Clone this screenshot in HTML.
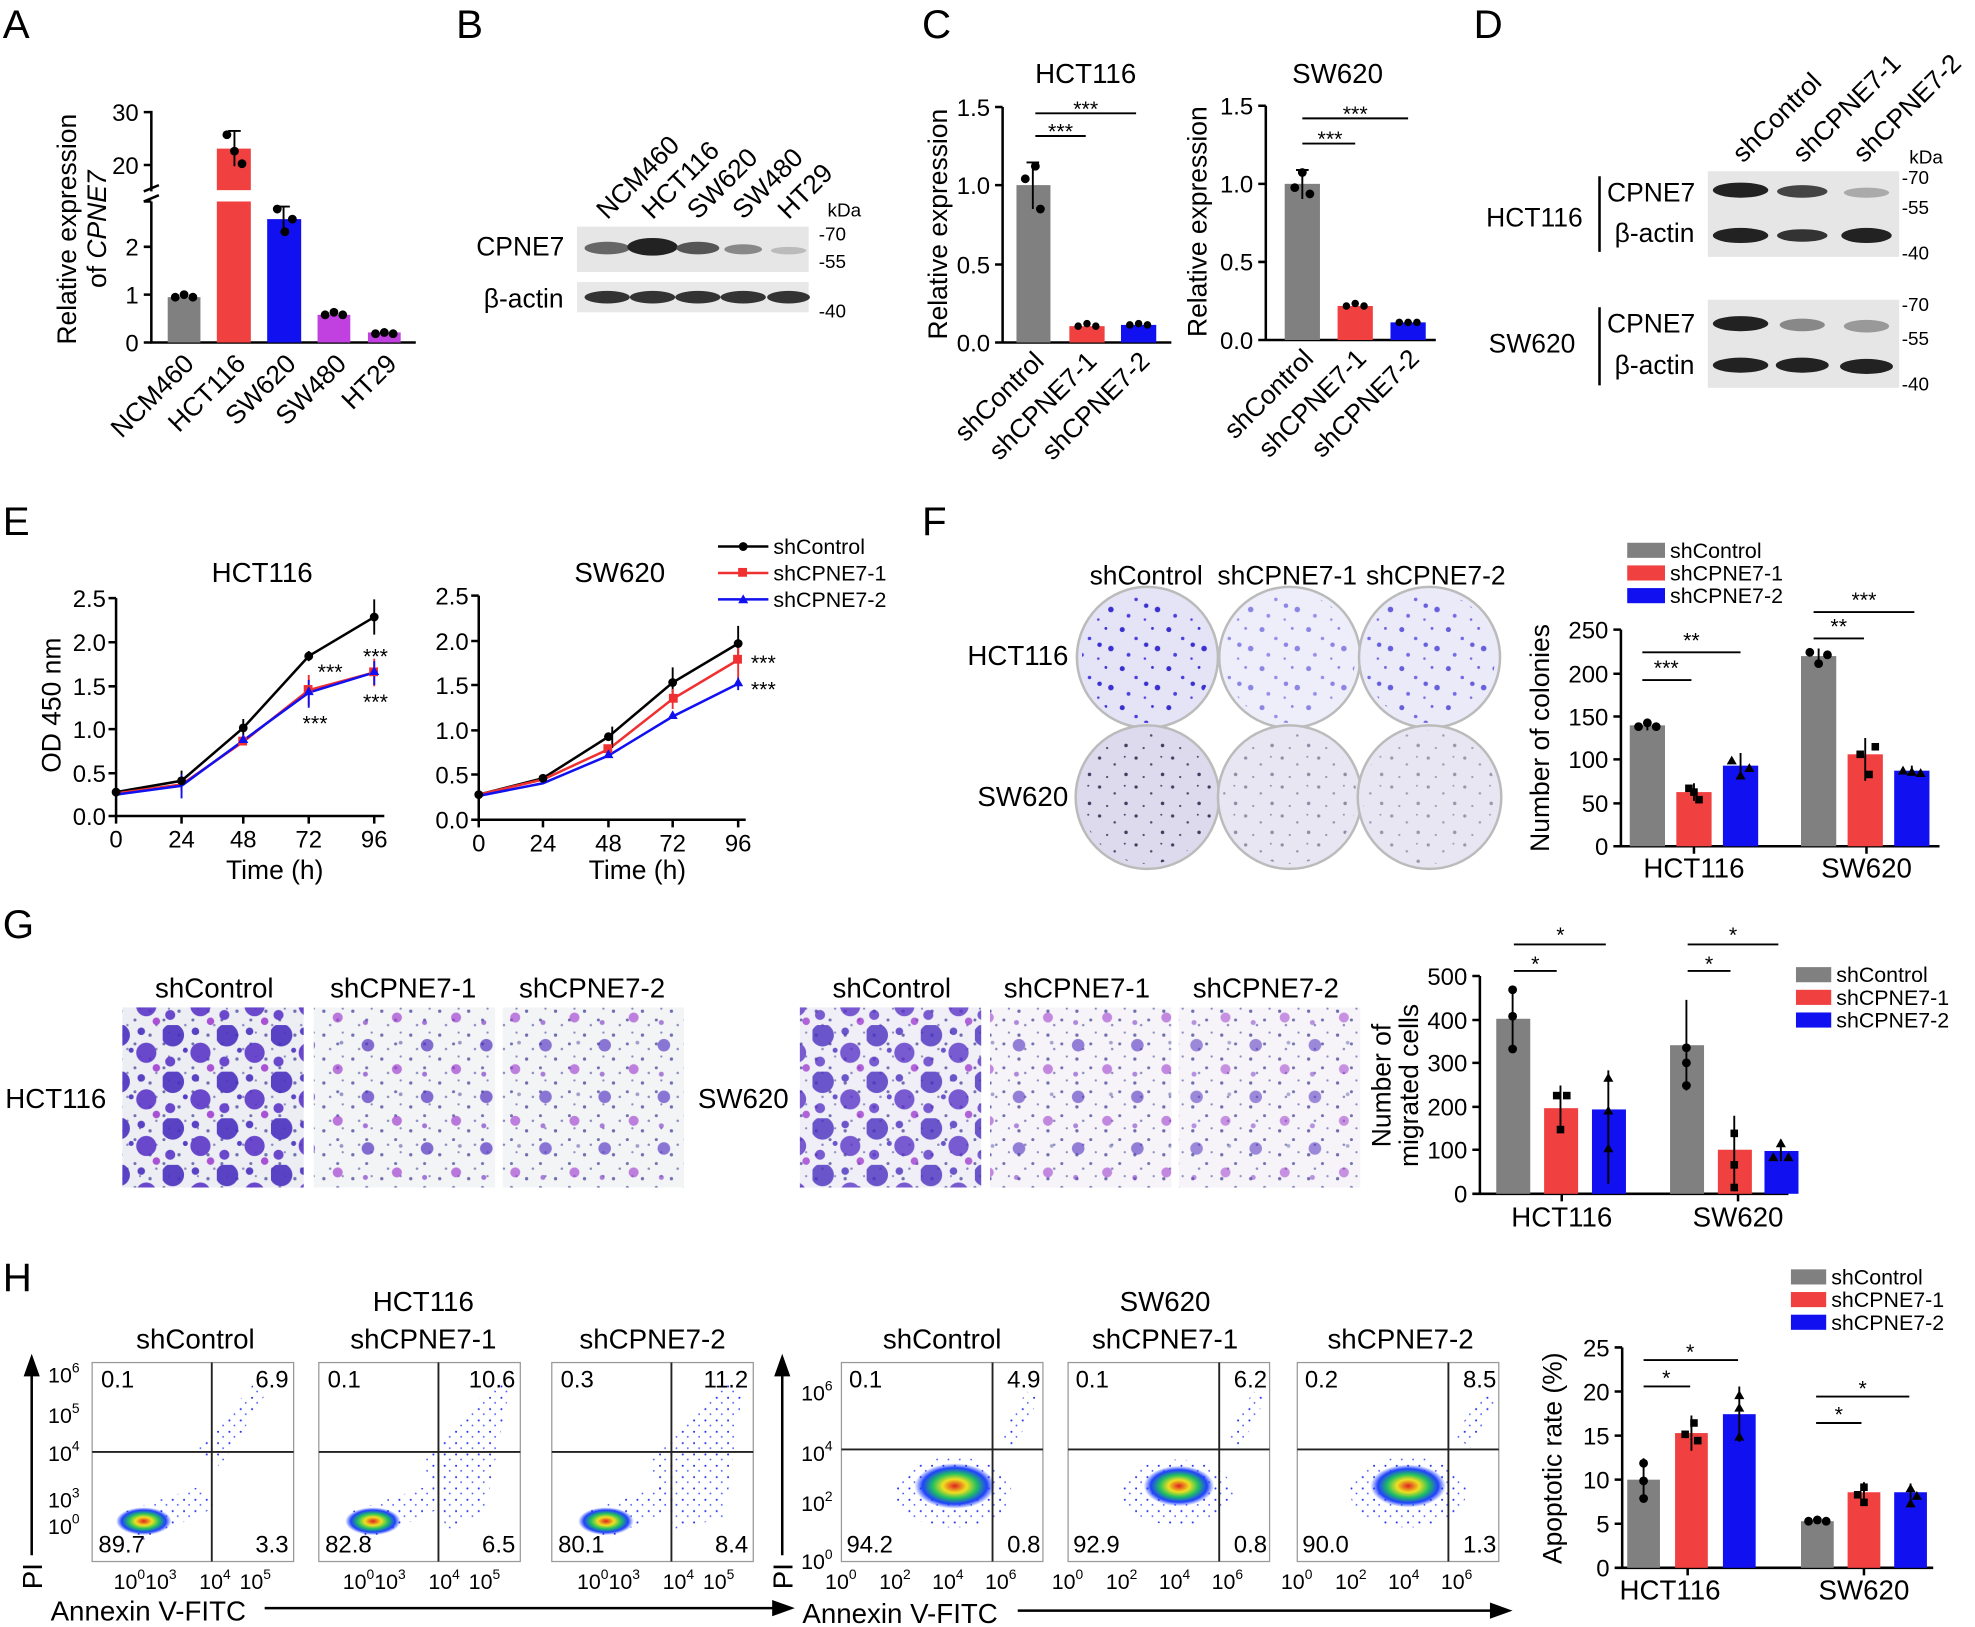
<!DOCTYPE html>
<html><head><meta charset="utf-8"><style>
html,body{margin:0;padding:0;background:#fff}
svg{display:block}
text{font-family:"Liberation Sans",Arial,sans-serif;fill:#000}
</style></head><body>
<svg width="1975" height="1627" viewBox="0 0 1568 1292" xmlns="http://www.w3.org/2000/svg">
<defs>
<pattern id="dots" width="37" height="31" patternUnits="userSpaceOnUse">
<circle cx="3" cy="4" r="2" fill="#3a2fd0"/><circle cx="14" cy="11" r="1.4" fill="#4b3fe0"/><circle cx="27" cy="3" r="1.1" fill="#3a2fd0"/><circle cx="31" cy="19" r="2.2" fill="#3a2fd0"/><circle cx="8" cy="24" r="1.5" fill="#4b3fe0"/><circle cx="21" cy="27" r="1" fill="#4b3fe0"/><circle cx="22" cy="16" r="1.8" fill="#3a2fd0"/>
</pattern>
<pattern id="dotsS" width="29" height="23" patternUnits="userSpaceOnUse">
<circle cx="3" cy="4" r="1.3" fill="#222244"/><circle cx="15" cy="9" r="1" fill="#333355"/><circle cx="24" cy="17" r="1.4" fill="#222244"/><circle cx="9" cy="19" r="0.9" fill="#333355"/><circle cx="23" cy="3" r="0.8" fill="#333355"/>
</pattern>
<pattern id="tw" width="23" height="19" patternUnits="userSpaceOnUse">
<circle cx="4" cy="5" r="1.3" fill="#6f6fb0"/><circle cx="15" cy="12" r="1.2" fill="#6f6fb0"/><circle cx="9" cy="16" r="1" fill="#8a8ac0"/><circle cx="19" cy="3" r="0.9" fill="#8a8ac0"/>
</pattern>
<pattern id="twD" width="43" height="37" patternUnits="userSpaceOnUse">
<circle cx="8" cy="8" r="9" fill="#4a2fc0"/><circle cx="30" cy="22" r="8" fill="#5a35c8"/><circle cx="6" cy="29" r="4" fill="#5a35c8"/><circle cx="26" cy="5" r="3" fill="#4a2fc0"/><circle cx="38" cy="34" r="3" fill="#a040d0"/><circle cx="18" cy="20" r="2" fill="#4a2fc0"/>
</pattern>
<pattern id="twM" width="47" height="41" patternUnits="userSpaceOnUse">
<circle cx="10" cy="10" r="5" fill="#5030c0"/><circle cx="33" cy="29" r="4" fill="#a040d0"/><circle cx="36" cy="8" r="1.5" fill="#6f6fb0"/><circle cx="8" cy="33" r="2" fill="#8040c8"/>
</pattern>
<radialGradient id="blob"><stop offset="0" stop-color="#e02020"/><stop offset="0.3" stop-color="#f0e020"/><stop offset="0.55" stop-color="#20c060"/><stop offset="0.8" stop-color="#2040ff"/><stop offset="1" stop-color="#2040ff" stop-opacity="0"/></radialGradient>
<pattern id="sc" width="9" height="9" patternUnits="userSpaceOnUse"><circle cx="2" cy="3" r="0.8" fill="#2233ee"/><circle cx="6" cy="7" r="0.7" fill="#4455ff"/></pattern>
</defs>

<g font-size="32">
<text x="2" y="30">A</text><text x="362" y="30">B</text><text x="732" y="30">C</text><text x="1170" y="30">D</text>
<text x="2" y="425">E</text><text x="732" y="425">F</text><text x="2" y="745">G</text><text x="2" y="1025">H</text>
</g>

<!-- A -->
<g stroke="#000" stroke-width="2" fill="none">
<path d="M120 88 V152 M120 160 V272 H330"/>
<path d="M114 152 l12 -5 M114 160 l12 -5"/>
<path d="M114 89 H120 M114 131 H120 M114 160 H120 M114 196 H120 M114 234 H120 M114 272 H120"/>
</g>
<g font-size="19" text-anchor="end"><text x="110" y="96">30</text><text x="110" y="138">20</text><text x="110" y="203">2</text><text x="110" y="241">1</text><text x="110" y="279">0</text></g>
<text transform="translate(60,182) rotate(-90)" font-size="21" text-anchor="middle">Relative expression</text>
<text transform="translate(84,182) rotate(-90)" font-size="21" text-anchor="middle">of <tspan font-style="italic">CPNE7</tspan></text>
<rect x="133" y="236" width="26" height="36" fill="#808080"/>
<rect x="172" y="118" width="27" height="154" fill="#f04040"/><rect x="170" y="151" width="31" height="9" fill="#fff"/>
<rect x="212" y="174" width="27" height="98" fill="#1010f0"/>
<rect x="252" y="250" width="26" height="22" fill="#c040e0"/>
<rect x="292" y="264" width="26" height="8" fill="#c040e0"/>
<g stroke="#000" stroke-width="1.5"><path d="M186 104V132 M181 104h10 M225 164V186 M220 164h10"/></g>
<g fill="#000"><circle cx="139" cy="236" r="3.5"/><circle cx="146" cy="234" r="3.5"/><circle cx="153" cy="236" r="3.5"/>
<circle cx="180" cy="107" r="3.5"/><circle cx="186" cy="120" r="3.5"/><circle cx="192" cy="130" r="3.5"/>
<circle cx="220" cy="166" r="3.5"/><circle cx="226" cy="184" r="3.5"/><circle cx="232" cy="174" r="3.5"/>
<circle cx="258" cy="250" r="3.5"/><circle cx="265" cy="248" r="3.5"/><circle cx="272" cy="250" r="3.5"/>
<circle cx="298" cy="265" r="3.5"/><circle cx="305" cy="264" r="3.5"/><circle cx="312" cy="265" r="3.5"/></g>
<g font-size="21" text-anchor="end">
<text transform="translate(155,290) rotate(-45)">NCM460</text><text transform="translate(196,290) rotate(-45)">HCT116</text>
<text transform="translate(236,290) rotate(-45)">SW620</text><text transform="translate(276,290) rotate(-45)">SW480</text><text transform="translate(316,290) rotate(-45)">HT29</text></g>

<!-- B -->
<g font-size="21">
<text transform="translate(482,175) rotate(-45)">NCM460</text><text transform="translate(518,175) rotate(-45)">HCT116</text>
<text transform="translate(554,175) rotate(-45)">SW620</text><text transform="translate(590,175) rotate(-45)">SW480</text><text transform="translate(626,175) rotate(-45)">HT29</text>
<text x="378" y="203">CPNE7</text><text x="384" y="244">β-actin</text></g>
<text x="657" y="172" font-size="15">kDa</text>
<g font-size="15"><text x="650" y="191">-70</text><text x="650" y="213">-55</text><text x="650" y="252">-40</text></g>
<rect x="458" y="180" width="184" height="36" fill="#e6e6e6"/><rect x="458" y="224" width="184" height="24" fill="#e8e8e8"/>
<g fill="#222"><ellipse cx="482" cy="197" rx="18" ry="5" fill="#666"/><ellipse cx="518" cy="196" rx="20" ry="7" fill="#222"/><ellipse cx="554" cy="197" rx="17" ry="5" fill="#555"/><ellipse cx="590" cy="198" rx="15" ry="4" fill="#888"/><ellipse cx="626" cy="199" rx="14" ry="3" fill="#bbb"/>
<ellipse cx="482" cy="236" rx="18" ry="5" fill="#333"/><ellipse cx="518" cy="236" rx="18" ry="5" fill="#333"/><ellipse cx="554" cy="236" rx="18" ry="5" fill="#333"/><ellipse cx="590" cy="236" rx="18" ry="5" fill="#333"/><ellipse cx="626" cy="236" rx="17" ry="5" fill="#333"/></g>

<!-- C -->
<text x="862" y="66" font-size="22" text-anchor="middle">HCT116</text>
<text x="1062" y="66" font-size="22" text-anchor="middle">SW620</text>
<g stroke="#000" stroke-width="2" fill="none">
<path d="M796 85V272H930 M790 85h6 M790 147h6 M790 210h6 M790 272h6"/>
<path d="M1005 84V270H1140 M999 84h6 M999 146h6 M999 208h6 M999 270h6"/>
</g>
<g font-size="19" text-anchor="end"><text x="786" y="92">1.5</text><text x="786" y="154">1.0</text><text x="786" y="217">0.5</text><text x="786" y="279">0.0</text>
<text x="995" y="91">1.5</text><text x="995" y="153">1.0</text><text x="995" y="215">0.5</text><text x="995" y="277">0.0</text></g>
<text transform="translate(752,178) rotate(-90)" font-size="21" text-anchor="middle">Relative expression</text>
<text transform="translate(958,176) rotate(-90)" font-size="21" text-anchor="middle">Relative expression</text>
<rect x="807" y="147" width="27" height="125" fill="#808080"/><rect x="849" y="259" width="28" height="13" fill="#f04040"/><rect x="890" y="258" width="28" height="14" fill="#1010f0"/>
<rect x="1020" y="146" width="28" height="124" fill="#808080"/><rect x="1062" y="243" width="28" height="27" fill="#f04040"/><rect x="1104" y="256" width="28" height="14" fill="#1010f0"/>
<g stroke="#000" stroke-width="1.5" fill="none"><path d="M820 129V166 M815 129h10 M1034 135V158 M1029 135h10"/>
<path d="M822 108H862 M822 90H902 M1034 114H1076 M1034 94H1118"/></g>
<g fill="#000"><circle cx="814" cy="142" r="3.5"/><circle cx="822" cy="132" r="3.5"/><circle cx="826" cy="166" r="3.5"/>
<circle cx="856" cy="259" r="3"/><circle cx="863" cy="257" r="3"/><circle cx="870" cy="259" r="3"/><circle cx="897" cy="258" r="3"/><circle cx="904" cy="257" r="3"/><circle cx="911" cy="258" r="3"/>
<circle cx="1028" cy="149" r="3.5"/><circle cx="1034" cy="137" r="3.5"/><circle cx="1040" cy="154" r="3.5"/>
<circle cx="1069" cy="243" r="3"/><circle cx="1076" cy="241" r="3"/><circle cx="1083" cy="243" r="3"/><circle cx="1111" cy="256" r="3"/><circle cx="1118" cy="256" r="3"/><circle cx="1125" cy="256" r="3"/></g>
<g font-size="17" text-anchor="middle"><text x="842" y="110">***</text><text x="862" y="92">***</text><text x="1056" y="116">***</text><text x="1076" y="96">***</text></g>
<g font-size="21" text-anchor="end">
<text transform="translate(830,288) rotate(-45)">shControl</text><text transform="translate(872,288) rotate(-45)">shCPNE7-1</text><text transform="translate(914,288) rotate(-45)">shCPNE7-2</text>
<text transform="translate(1044,286) rotate(-45)">shControl</text><text transform="translate(1086,286) rotate(-45)">shCPNE7-1</text><text transform="translate(1128,286) rotate(-45)">shCPNE7-2</text></g>

<!-- D -->
<g font-size="21">
<text transform="translate(1384,130) rotate(-45)">shControl</text><text transform="translate(1432,130) rotate(-45)">shCPNE7-1</text><text transform="translate(1480,130) rotate(-45)">shCPNE7-2</text>
<text x="1180" y="180">HCT116</text><text x="1182" y="280">SW620</text>
<text x="1276" y="160">CPNE7</text><text x="1282" y="192">β-actin</text><text x="1276" y="264">CPNE7</text><text x="1282" y="297">β-actin</text></g>
<path d="M1270 140V200 M1270 244V306" stroke="#000" stroke-width="2"/>
<text x="1516" y="130" font-size="15">kDa</text>
<g font-size="15"><text x="1510" y="146">-70</text><text x="1510" y="170">-55</text><text x="1510" y="206">-40</text><text x="1510" y="247">-70</text><text x="1510" y="274">-55</text><text x="1510" y="310">-40</text></g>
<rect x="1356" y="136" width="152" height="68" fill="#e6e6e6"/><rect x="1356" y="238" width="152" height="70" fill="#e6e6e6"/>
<g><ellipse cx="1382" cy="151" rx="22" ry="6" fill="#222"/><ellipse cx="1431" cy="152" rx="20" ry="5" fill="#444"/><ellipse cx="1482" cy="153" rx="18" ry="4" fill="#aaa"/>
<ellipse cx="1382" cy="187" rx="22" ry="6" fill="#222"/><ellipse cx="1431" cy="187" rx="20" ry="5" fill="#333"/><ellipse cx="1482" cy="187" rx="20" ry="6" fill="#222"/>
<ellipse cx="1382" cy="257" rx="22" ry="6" fill="#222"/><ellipse cx="1431" cy="258" rx="18" ry="5" fill="#888"/><ellipse cx="1482" cy="259" rx="18" ry="5" fill="#999"/>
<ellipse cx="1382" cy="290" rx="22" ry="6" fill="#222"/><ellipse cx="1431" cy="290" rx="21" ry="6" fill="#222"/><ellipse cx="1482" cy="291" rx="21" ry="6" fill="#222"/></g>

<!-- E -->
<text x="208" y="462" font-size="22" text-anchor="middle">HCT116</text>
<text x="492" y="462" font-size="22" text-anchor="middle">SW620</text>
<g stroke="#000" stroke-width="2" fill="none">
<path d="M92 475V648H305 M86 475h6 M86 510h6 M86 545h6 M86 579h6 M86 614h6 M86 648h6 M92 648v6 M144 648v6 M193 648v6 M245 648v6 M297 648v6"/>
<path d="M380 473V651H592 M374 473h6 M374 509h6 M374 544h6 M374 580h6 M374 615h6 M374 651h6 M380 651v6 M431 651v6 M483 651v6 M534 651v6 M586 651v6"/>
</g>
<g font-size="19" text-anchor="end"><text x="84" y="482">2.5</text><text x="84" y="517">2.0</text><text x="84" y="552">1.5</text><text x="84" y="586">1.0</text><text x="84" y="621">0.5</text><text x="84" y="655">0.0</text>
<text x="372" y="480">2.5</text><text x="372" y="516">2.0</text><text x="372" y="551">1.5</text><text x="372" y="587">1.0</text><text x="372" y="622">0.5</text><text x="372" y="658">0.0</text></g>
<g font-size="19" text-anchor="middle"><text x="92" y="673">0</text><text x="144" y="673">24</text><text x="193" y="673">48</text><text x="245" y="673">72</text><text x="297" y="673">96</text>
<text x="380" y="676">0</text><text x="431" y="676">24</text><text x="483" y="676">48</text><text x="534" y="676">72</text><text x="586" y="676">96</text></g>
<g font-size="21" text-anchor="middle"><text x="218" y="698">Time (h)</text><text x="506" y="698">Time (h)</text></g>
<text transform="translate(48,560) rotate(-90)" font-size="21" text-anchor="middle">OD 450 nm</text>
<g fill="none" stroke-width="2">
<polyline points="92,629 144,620 193,578 245,521 297,490" stroke="#000"/>
<polyline points="92,630 144,623 193,589 245,548 297,534" stroke="#f03030"/>
<polyline points="92,631 144,624 193,588 245,550 297,534" stroke="#1010f0"/>
<polyline points="380,631 431,618 483,585 534,542 586,511" stroke="#000"/>
<polyline points="380,631 431,619 483,595 534,555 586,524" stroke="#f03030"/>
<polyline points="380,632 431,622 483,600 534,569 586,543" stroke="#1010f0"/>
</g>
<g stroke-width="1.5" fill="none">
<path d="M144 612V628 M193 571V586 M245 517V525 M297 476V504 M486 577V594 M534 530V556 M586 497V525" stroke="#000"/>
<path d="M245 536V560 M297 523V545 M534 547V563 M586 512V538" stroke="#f03030"/>
<path d="M144 615V634 M245 540V562 M297 525V544 M586 538V548" stroke="#1010f0"/>
</g>
<g fill="#000"><circle cx="92" cy="629" r="3.5"/><circle cx="144" cy="620" r="3.5"/><circle cx="193" cy="578" r="3.5"/><circle cx="245" cy="521" r="3.5"/><circle cx="297" cy="490" r="3.5"/>
<circle cx="380" cy="631" r="3.5"/><circle cx="431" cy="618" r="3.5"/><circle cx="483" cy="585" r="3.5"/><circle cx="534" cy="542" r="3.5"/><circle cx="586" cy="511" r="3.5"/></g>
<g fill="#f03030"><rect x="241" y="544" width="7" height="7"/><rect x="293" y="530" width="7" height="7"/><rect x="531" y="551" width="7" height="7"/><rect x="582" y="520" width="7" height="7"/><rect x="479" y="591" width="7" height="7"/><rect x="189" y="585" width="7" height="7"/></g>
<g fill="#1010f0"><path d="M245 545l4 7h-8z M297 529l4 7h-8z M534 564l4 7h-8z M586 538l4 7h-8z M483 595l4 7h-8z M193 583l4 7h-8z"/></g>
<g font-size="17" text-anchor="middle"><text x="262" y="539">***</text><text x="250" y="580">***</text><text x="298" y="527">***</text><text x="298" y="563">***</text><text x="606" y="532">***</text><text x="606" y="553">***</text></g>
<g stroke-width="2"><path d="M570 434h40" stroke="#000"/><path d="M570 455h40" stroke="#f03030"/><path d="M570 476h40" stroke="#1010f0"/></g>
<circle cx="590" cy="434" r="3.5"/><rect x="586" y="451" width="7" height="7" fill="#f03030"/><path d="M590 472l4 7h-8z" fill="#1010f0"/>
<g font-size="17"><text x="614" y="440">shControl</text><text x="614" y="461">shCPNE7-1</text><text x="614" y="482">shCPNE7-2</text></g>

<!-- F -->
<g font-size="21" text-anchor="middle"><text x="910" y="464">shControl</text><text x="1022" y="464">shCPNE7-1</text><text x="1140" y="464">shCPNE7-2</text></g>
<g font-size="22"><text x="768" y="528">HCT116</text><text x="776" y="640">SW620</text></g>
<g stroke="#bbb" stroke-width="2">
<circle cx="911" cy="522" r="56" fill="#e4e4f6"/><circle cx="1024" cy="522" r="56" fill="#eeeefa"/><circle cx="1135" cy="522" r="56" fill="#eaeaf8"/>
<circle cx="911" cy="633" r="57" fill="#dedaee"/><circle cx="1024" cy="633" r="57" fill="#e8e6f2"/><circle cx="1135" cy="633" r="57" fill="#e8e6f2"/></g>
<circle cx="911" cy="522" r="52" fill="url(#dots)"/><circle cx="1024" cy="522" r="52" fill="url(#dots)" opacity="0.55"/><circle cx="1135" cy="522" r="52" fill="url(#dots)" opacity="0.75"/>
<circle cx="911" cy="633" r="53" fill="url(#dotsS)" opacity="0.85"/><circle cx="1024" cy="633" r="53" fill="url(#dotsS)" opacity="0.45"/><circle cx="1135" cy="633" r="53" fill="url(#dotsS)" opacity="0.4"/>
<g stroke="#000" stroke-width="2" fill="none">
<path d="M1287 500V672H1540 M1281 500h6 M1281 535h6 M1281 569h6 M1281 603h6 M1281 638h6 M1281 672h6 M1345 672v6 M1482 672v6"/></g>
<g font-size="19" text-anchor="end"><text x="1277" y="507">250</text><text x="1277" y="542">200</text><text x="1277" y="576">150</text><text x="1277" y="610">100</text><text x="1277" y="645">50</text><text x="1277" y="679">0</text></g>
<text transform="translate(1230,586) rotate(-90)" font-size="21" text-anchor="middle">Number of colonies</text>
<g font-size="22" text-anchor="middle"><text x="1345" y="697">HCT116</text><text x="1482" y="697">SW620</text></g>
<rect x="1294" y="576" width="28" height="96" fill="#808080"/><rect x="1331" y="629" width="28" height="43" fill="#f04040"/><rect x="1368" y="608" width="28" height="64" fill="#1010f0"/>
<rect x="1430" y="521" width="28" height="151" fill="#808080"/><rect x="1467" y="599" width="28" height="73" fill="#f04040"/><rect x="1504" y="612" width="28" height="60" fill="#1010f0"/>
<g stroke="#000" stroke-width="1.5" fill="none"><path d="M1308 572V580 M1345 622V636 M1382 598V618 M1444 515V530 M1481 586V620 M1518 608V616"/>
<path d="M1304 540H1343 M1304 518H1382 M1440 507H1480 M1440 486H1520"/></g>
<g fill="#000"><circle cx="1301" cy="577" r="3.5"/><circle cx="1308" cy="574" r="3.5"/><circle cx="1315" cy="577" r="3.5"/><rect x="1338" y="623" width="6" height="6"/><rect x="1346" y="632" width="6" height="6"/><rect x="1342" y="626" width="6" height="6"/>
<path d="M1375 600l4 7h-8z M1382 612l4 7h-8z M1389 606l4 7h-8z"/><circle cx="1437" cy="518" r="3.5"/><circle cx="1444" cy="527" r="3.5"/><circle cx="1451" cy="520" r="3.5"/>
<rect x="1474" y="596" width="6" height="6"/><rect x="1481" y="612" width="6" height="6"/><rect x="1486" y="590" width="6" height="6"/><path d="M1511 608l4 7h-8z M1518 609l4 7h-8z M1525 610l4 7h-8z"/></g>
<g font-size="17" text-anchor="middle"><text x="1323" y="536">***</text><text x="1343" y="514">**</text><text x="1460" y="503">**</text><text x="1480" y="482">***</text></g>
<rect x="1292" y="431" width="30" height="12" fill="#808080"/><rect x="1292" y="449" width="30" height="12" fill="#f04040"/><rect x="1292" y="467" width="30" height="12" fill="#1010f0"/>
<g font-size="17"><text x="1326" y="443">shControl</text><text x="1326" y="461">shCPNE7-1</text><text x="1326" y="479">shCPNE7-2</text></g>

<!-- G -->
<g font-size="22" text-anchor="middle"><text x="170" y="792">shControl</text><text x="320" y="792">shCPNE7-1</text><text x="470" y="792">shCPNE7-2</text>
<text x="708" y="792">shControl</text><text x="855" y="792">shCPNE7-1</text><text x="1005" y="792">shCPNE7-2</text></g>
<g font-size="22"><text x="4" y="880">HCT116</text><text x="554" y="880">SW620</text></g>
<rect x="97" y="800" width="144" height="143" fill="#eceef4"/><rect x="97" y="800" width="144" height="143" fill="url(#tw)"/><rect x="97" y="800" width="144" height="143" fill="url(#twD)" opacity="0.9"/>
<rect x="249" y="800" width="144" height="143" fill="#f3f4f6"/><rect x="249" y="800" width="144" height="143" fill="url(#tw)"/><rect x="249" y="800" width="144" height="143" fill="url(#twM)" opacity="0.7"/>
<rect x="399" y="800" width="144" height="143" fill="#f3f4f6"/><rect x="399" y="800" width="144" height="143" fill="url(#tw)"/><rect x="399" y="800" width="144" height="143" fill="url(#twM)" opacity="0.65"/>
<rect x="635" y="800" width="144" height="143" fill="#f0eef6"/><rect x="635" y="800" width="144" height="143" fill="url(#tw)"/><rect x="635" y="800" width="144" height="143" fill="url(#twD)" opacity="0.8"/>
<rect x="786" y="800" width="144" height="143" fill="#f6f4f8"/><rect x="786" y="800" width="144" height="143" fill="url(#tw)"/><rect x="786" y="800" width="144" height="143" fill="url(#twM)" opacity="0.6"/>
<rect x="936" y="800" width="144" height="143" fill="#f6f4f8"/><rect x="936" y="800" width="144" height="143" fill="url(#tw)"/><rect x="936" y="800" width="144" height="143" fill="url(#twM)" opacity="0.55"/>
<g stroke="#000" stroke-width="2" fill="none">
<path d="M1175 775V948H1420 M1169 775h6 M1169 810h6 M1169 844h6 M1169 879h6 M1169 913h6 M1169 948h6 M1240 948v6 M1380 948v6"/></g>
<g font-size="19" text-anchor="end"><text x="1165" y="782">500</text><text x="1165" y="817">400</text><text x="1165" y="851">300</text><text x="1165" y="886">200</text><text x="1165" y="920">100</text><text x="1165" y="955">0</text></g>
<text transform="translate(1104,862) rotate(-90)" font-size="21" text-anchor="middle">Number of</text>
<text transform="translate(1126,862) rotate(-90)" font-size="21" text-anchor="middle">migrated cells</text>
<g font-size="22" text-anchor="middle"><text x="1240" y="974">HCT116</text><text x="1380" y="974">SW620</text></g>
<rect x="1188" y="809" width="27" height="139" fill="#808080"/><rect x="1226" y="880" width="27" height="68" fill="#f04040"/><rect x="1264" y="881" width="27" height="67" fill="#1010f0"/>
<rect x="1326" y="830" width="27" height="118" fill="#808080"/><rect x="1364" y="913" width="27" height="35" fill="#f04040"/><rect x="1401" y="914" width="27" height="34" fill="#1010f0"/>
<g stroke="#000" stroke-width="1.5" fill="none"><path d="M1201 784V836 M1239 862V898 M1277 850V940 M1339 794V866 M1377 886V946 M1414 905V922"/>
<path d="M1202 771H1236 M1202 750H1275 M1340 771H1374 M1340 750H1412"/></g>
<g fill="#000"><circle cx="1201" cy="786" r="3.5"/><circle cx="1201" cy="807" r="3.5"/><circle cx="1201" cy="833" r="3.5"/>
<rect x="1233" y="867" width="6" height="6"/><rect x="1241" y="867" width="6" height="6"/><rect x="1236" y="894" width="6" height="6"/>
<path d="M1277 852l4 7h-8z M1277 878l4 7h-8z M1277 908l4 7h-8z"/><circle cx="1339" cy="832" r="3.5"/><circle cx="1339" cy="844" r="3.5"/><circle cx="1339" cy="862" r="3.5"/>
<rect x="1374" y="897" width="6" height="6"/><rect x="1374" y="922" width="6" height="6"/><rect x="1374" y="940" width="6" height="6"/><path d="M1414 904l4 7h-8z M1408 915l4 7h-8z M1420 915l4 7h-8z"/></g>
<g font-size="17" text-anchor="middle"><text x="1219" y="771">*</text><text x="1239" y="748">*</text><text x="1357" y="771">*</text><text x="1376" y="748">*</text></g>
<rect x="1426" y="768" width="28" height="12" fill="#808080"/><rect x="1426" y="786" width="28" height="12" fill="#f04040"/><rect x="1426" y="804" width="28" height="12" fill="#1010f0"/>
<g font-size="17"><text x="1458" y="780">shControl</text><text x="1458" y="798">shCPNE7-1</text><text x="1458" y="816">shCPNE7-2</text></g>

<!-- H -->
<g font-size="22" text-anchor="middle"><text x="336" y="1041">HCT116</text><text x="925" y="1041">SW620</text>
<text x="155" y="1071">shControl</text><text x="336" y="1071">shCPNE7-1</text><text x="518" y="1071">shCPNE7-2</text>
<text x="748" y="1071">shControl</text><text x="925" y="1071">shCPNE7-1</text><text x="1112" y="1071">shCPNE7-2</text></g>
<g stroke="#000" stroke-width="2" fill="#000">
<path d="M25 1090V1235" fill="none"/><path d="M25 1078l-5 14h10z"/>
<path d="M210 1277H620" fill="none"/><path d="M628 1277l-14 -5v10z"/>
<path d="M621 1090V1235" fill="none"/><path d="M621 1078l-5 14h10z"/>
<path d="M808 1279H1188" fill="none"/><path d="M1198 1279l-14 -5v10z"/>
</g>
<g font-size="22"><text transform="translate(33,1262) rotate(-90)">PI</text><text transform="translate(629,1262) rotate(-90)">PI</text>
<text x="40" y="1287">Annexin V-FITC</text><text x="637" y="1289">Annexin V-FITC</text></g>

<g>
<rect x="73" y="1082" width="160" height="158" fill="#fff" stroke="#999"/>
<path d="M156 1150 L205 1095 L215 1100 L175 1165 Z" fill="url(#sc)"/>
<path d="M100 1200 L160 1180 L175 1195 L110 1225 Z" fill="url(#sc)"/>
<ellipse cx="114" cy="1208" rx="22" ry="11" fill="url(#blob)"/>
<path d="M73 1153H233 M168 1082V1240" stroke="#222" stroke-width="1.5"/>
<text x="80" y="1102" font-size="19">0.1</text><text x="229" y="1102" font-size="19" text-anchor="end">6.9</text>
<text x="78" y="1233" font-size="19">89.7</text><text x="229" y="1233" font-size="19" text-anchor="end">3.3</text>
</g>
<g>
<rect x="253" y="1082" width="160" height="158" fill="#fff" stroke="#999"/>
<path d="M335 1160 L395 1095 L405 1100 L385 1200 L355 1215 Z" fill="url(#sc)"/>
<path d="M280 1200 L340 1180 L355 1195 L290 1225 Z" fill="url(#sc)"/>
<ellipse cx="296" cy="1208" rx="22" ry="11" fill="url(#blob)"/>
<path d="M253 1153H413 M348 1082V1240" stroke="#222" stroke-width="1.5"/>
<text x="260" y="1102" font-size="19">0.1</text><text x="409" y="1102" font-size="19" text-anchor="end">10.6</text>
<text x="258" y="1233" font-size="19">82.8</text><text x="409" y="1233" font-size="19" text-anchor="end">6.5</text>
</g>
<g>
<rect x="438" y="1082" width="160" height="158" fill="#fff" stroke="#999"/>
<path d="M515 1160 L578 1095 L590 1100 L575 1205 L535 1215 Z" fill="url(#sc)"/>
<path d="M465 1200 L525 1180 L540 1195 L475 1225 Z" fill="url(#sc)"/>
<ellipse cx="481" cy="1208" rx="22" ry="11" fill="url(#blob)"/>
<path d="M438 1153H598 M533 1082V1240" stroke="#222" stroke-width="1.5"/>
<text x="445" y="1102" font-size="19">0.3</text><text x="594" y="1102" font-size="19" text-anchor="end">11.2</text>
<text x="443" y="1233" font-size="19">80.1</text><text x="594" y="1233" font-size="19" text-anchor="end">8.4</text>
</g>
<g>
<rect x="668" y="1082" width="160" height="158" fill="#fff" stroke="#999"/>
<path d="M795 1140 L815 1105 L825 1110 L805 1150 Z" fill="url(#sc)"/>
<ellipse cx="757" cy="1185" rx="46" ry="28" fill="url(#sc)"/>
<ellipse cx="758" cy="1180" rx="32" ry="18" fill="url(#blob)"/>
<path d="M668 1151H828 M788 1082V1240" stroke="#222" stroke-width="1.5"/>
<text x="674" y="1102" font-size="19">0.1</text><text x="826" y="1102" font-size="19" text-anchor="end">4.9</text>
<text x="672" y="1233" font-size="19">94.2</text><text x="826" y="1233" font-size="19" text-anchor="end">0.8</text>
</g>
<g>
<rect x="848" y="1082" width="160" height="158" fill="#fff" stroke="#999"/>
<path d="M975 1140 L995 1105 L1005 1110 L985 1150 Z" fill="url(#sc)"/>
<ellipse cx="935" cy="1185" rx="44" ry="26" fill="url(#sc)"/>
<ellipse cx="936" cy="1180" rx="28" ry="16" fill="url(#blob)"/>
<path d="M848 1151H1008 M968 1082V1240" stroke="#222" stroke-width="1.5"/>
<text x="854" y="1102" font-size="19">0.1</text><text x="1006" y="1102" font-size="19" text-anchor="end">6.2</text>
<text x="852" y="1233" font-size="19">92.9</text><text x="1006" y="1233" font-size="19" text-anchor="end">0.8</text>
</g>
<g>
<rect x="1030" y="1082" width="160" height="158" fill="#fff" stroke="#999"/>
<path d="M1155 1140 L1178 1105 L1188 1110 L1168 1150 Z" fill="url(#sc)"/>
<ellipse cx="1118" cy="1185" rx="46" ry="28" fill="url(#sc)"/>
<ellipse cx="1118" cy="1180" rx="30" ry="17" fill="url(#blob)"/>
<path d="M1030 1151H1190 M1150 1082V1240" stroke="#222" stroke-width="1.5"/>
<text x="1036" y="1102" font-size="19">0.2</text><text x="1188" y="1102" font-size="19" text-anchor="end">8.5</text>
<text x="1034" y="1233" font-size="19">90.0</text><text x="1188" y="1233" font-size="19" text-anchor="end">1.3</text>
</g>
<g font-size="17">
<text x="38" y="1098">10<tspan font-size="11" dy="-8">6</tspan></text><text x="38" y="1130">10<tspan font-size="11" dy="-8">5</tspan></text><text x="38" y="1160">10<tspan font-size="11" dy="-8">4</tspan></text><text x="38" y="1197">10<tspan font-size="11" dy="-8">3</tspan></text><text x="38" y="1218">10<tspan font-size="11" dy="-8">0</tspan></text>
<text x="90" y="1262">10<tspan font-size="11" dy="-8">0</tspan><tspan dy="8">10</tspan><tspan font-size="11" dy="-8">3</tspan></text><text x="158" y="1262">10<tspan font-size="11" dy="-8">4</tspan></text><text x="190" y="1262">10<tspan font-size="11" dy="-8">5</tspan></text>
<text x="272" y="1262">10<tspan font-size="11" dy="-8">0</tspan><tspan dy="8">10</tspan><tspan font-size="11" dy="-8">3</tspan></text><text x="340" y="1262">10<tspan font-size="11" dy="-8">4</tspan></text><text x="372" y="1262">10<tspan font-size="11" dy="-8">5</tspan></text>
<text x="458" y="1262">10<tspan font-size="11" dy="-8">0</tspan><tspan dy="8">10</tspan><tspan font-size="11" dy="-8">3</tspan></text><text x="526" y="1262">10<tspan font-size="11" dy="-8">4</tspan></text><text x="558" y="1262">10<tspan font-size="11" dy="-8">5</tspan></text>
<text x="636" y="1112">10<tspan font-size="11" dy="-8">6</tspan></text><text x="636" y="1160">10<tspan font-size="11" dy="-8">4</tspan></text><text x="636" y="1200">10<tspan font-size="11" dy="-8">2</tspan></text><text x="636" y="1246">10<tspan font-size="11" dy="-8">0</tspan></text>
<text x="655" y="1262">10<tspan font-size="11" dy="-8">0</tspan></text><text x="698" y="1262">10<tspan font-size="11" dy="-8">2</tspan></text><text x="740" y="1262">10<tspan font-size="11" dy="-8">4</tspan></text><text x="782" y="1262">10<tspan font-size="11" dy="-8">6</tspan></text>
<text x="835" y="1262">10<tspan font-size="11" dy="-8">0</tspan></text><text x="878" y="1262">10<tspan font-size="11" dy="-8">2</tspan></text><text x="920" y="1262">10<tspan font-size="11" dy="-8">4</tspan></text><text x="962" y="1262">10<tspan font-size="11" dy="-8">6</tspan></text>
<text x="1017" y="1262">10<tspan font-size="11" dy="-8">0</tspan></text><text x="1060" y="1262">10<tspan font-size="11" dy="-8">2</tspan></text><text x="1102" y="1262">10<tspan font-size="11" dy="-8">4</tspan></text><text x="1144" y="1262">10<tspan font-size="11" dy="-8">6</tspan></text>
</g>
<g stroke="#000" stroke-width="2" fill="none">
<path d="M1288 1070V1245H1535 M1282 1070h6 M1282 1105h6 M1282 1140h6 M1282 1175h6 M1282 1210h6 M1282 1245h6 M1340 1245v6 M1480 1245v6"/></g>
<g font-size="19" text-anchor="end"><text x="1278" y="1077">25</text><text x="1278" y="1112">20</text><text x="1278" y="1147">15</text><text x="1278" y="1182">10</text><text x="1278" y="1217">5</text><text x="1278" y="1252">0</text></g>
<text transform="translate(1240,1158) rotate(-90)" font-size="21" text-anchor="middle">Apoptotic rate (%)</text>
<g font-size="22" text-anchor="middle"><text x="1326" y="1270">HCT116</text><text x="1480" y="1270">SW620</text></g>
<rect x="1292" y="1175" width="26" height="70" fill="#808080"/><rect x="1330" y="1138" width="26" height="107" fill="#f04040"/><rect x="1368" y="1123" width="26" height="122" fill="#1010f0"/>
<rect x="1430" y="1208" width="26" height="37" fill="#808080"/><rect x="1467" y="1185" width="26" height="60" fill="#f04040"/><rect x="1504" y="1185" width="26" height="60" fill="#1010f0"/>
<g stroke="#000" stroke-width="1.5" fill="none"><path d="M1305 1158V1192 M1343 1124V1152 M1381 1101V1145 M1480 1177V1193 M1517 1178V1193"/>
<path d="M1305 1101H1342 M1305 1080H1380 M1442 1130H1478 M1442 1109H1516"/></g>
<g fill="#000"><circle cx="1305" cy="1162" r="3.5"/><circle cx="1305" cy="1176" r="3.5"/><circle cx="1305" cy="1190" r="3.5"/>
<rect x="1335" y="1136" width="6" height="6"/><rect x="1342" y="1127" width="6" height="6"/><rect x="1345" y="1141" width="6" height="6"/>
<path d="M1381 1104l4 7h-8z M1381 1114l4 7h-8z M1381 1137l4 7h-8z"/><circle cx="1436" cy="1208" r="3.5"/><circle cx="1443" cy="1207" r="3.5"/><circle cx="1450" cy="1208" r="3.5"/>
<rect x="1477" y="1178" width="6" height="6"/><rect x="1477" y="1190" width="6" height="6"/><rect x="1472" y="1184" width="6" height="6"/><path d="M1517 1178l4 7h-8z M1517 1190l4 7h-8z M1522 1184l4 7h-8z"/></g>
<g font-size="17" text-anchor="middle"><text x="1323" y="1100">*</text><text x="1342" y="1079">*</text><text x="1460" y="1129">*</text><text x="1479" y="1108">*</text></g>
<rect x="1422" y="1008" width="28" height="12" fill="#808080"/><rect x="1422" y="1026" width="28" height="12" fill="#f04040"/><rect x="1422" y="1044" width="28" height="12" fill="#1010f0"/>
<g font-size="17"><text x="1454" y="1020">shControl</text><text x="1454" y="1038">shCPNE7-1</text><text x="1454" y="1056">shCPNE7-2</text></g>
</svg>
</body></html>
